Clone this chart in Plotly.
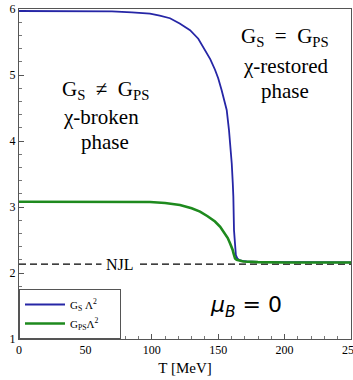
import plotly.graph_objects as go

# Data
T_s = [0, 40, 70, 85, 98.6, 106, 113.7, 121, 128.8, 135, 140, 144, 147.6, 150, 152.6,
       154.5, 156.4, 158.1, 159.2, 160.2, 161.0, 161.4, 161.9, 162.3, 162.7, 163.3,
       164.4, 166, 168, 171.5, 180, 200, 250]
G_s = [5.97, 5.97, 5.965, 5.95, 5.93, 5.90, 5.86, 5.78, 5.68, 5.55, 5.38, 5.24, 5.08,
       4.95, 4.77, 4.63, 4.47, 4.17, 3.93, 3.66, 3.35, 3.16, 2.65, 2.47, 2.35, 2.27,
       2.22, 2.195, 2.185, 2.175, 2.168, 2.163, 2.16]

T_ps = [0, 60, 90, 98.6, 110, 121.2, 130, 136.3, 142, 147.6, 151.5, 155.1, 157.2,
        158.9, 160.0, 160.9, 161.5, 161.9, 162.7, 163.9, 166, 168.9, 180, 200, 250]
G_ps = [3.08, 3.08, 3.08, 3.075, 3.06, 3.03, 2.98, 2.93, 2.86, 2.78, 2.70, 2.60, 2.53,
        2.45, 2.40, 2.35, 2.30, 2.25, 2.22, 2.20, 2.185, 2.175, 2.165, 2.16, 2.16]

njl_value = 2.135
x_range = [0, 250]
y_range = [1, 6]

serif = "Liberation Serif"
pad = "\u00a0" * 6

fig = go.Figure()
fig.add_trace(go.Scatter(x=x_range, y=[njl_value, njl_value], mode="lines",
                         line=dict(color="black", width=1.3, dash="7px,4px"),
                         showlegend=False, hoverinfo="skip"))
fig.add_trace(go.Scatter(x=T_s, y=G_s, mode="lines",
                         name="G<sub>S</sub> Λ<sup>2</sup>" + pad,
                         line=dict(color="#2626a6", width=1.8)))
fig.add_trace(go.Scatter(x=T_ps, y=G_ps, mode="lines",
                         name="G<sub>PS</sub>Λ<sup>2</sup>" + pad,
                         line=dict(color="#1e8a1e", width=2.6)))

tickfont = dict(family=serif, size=12, color="black")
fig.update_xaxes(range=x_range, dtick=50, tick0=0, showgrid=False, zeroline=False,
                 showline=True, linecolor="#555", linewidth=1, mirror=True,
                 ticks="inside", ticklen=5, tickcolor="#555", tickfont=tickfont,
                 ticklabeloverflow="allow",
                 minor=dict(ticks="inside", dtick=10, ticklen=3, tickcolor="#777"),
                 title=dict(text="T [MeV]", font=dict(family=serif, size=15, color="black"),
                            standoff=6),
                 automargin=False)
fig.update_yaxes(range=y_range, dtick=1, tick0=0, showgrid=False, zeroline=False,
                 showline=True, linecolor="#555", linewidth=1, mirror=True,
                 ticks="inside", ticklen=5, tickcolor="#555", tickfont=tickfont,
                 ticklabeloverflow="allow",
                 minor=dict(ticks="inside", dtick=0.2, ticklen=3, tickcolor="#777"),
                 automargin=False)

# mirrored tick marks on top and right
fig.update_layout(
    xaxis2=dict(overlaying="x", side="top", range=x_range, dtick=50, tick0=0,
                showgrid=False, zeroline=False, showticklabels=False,
                ticks="inside", ticklen=5, tickcolor="#555",
                minor=dict(ticks="inside", dtick=10, ticklen=3, tickcolor="#777")),
    yaxis2=dict(overlaying="y", side="right", range=y_range, dtick=1, tick0=0,
                showgrid=False, zeroline=False, showticklabels=False,
                ticks="inside", ticklen=5, tickcolor="#555",
                minor=dict(ticks="inside", dtick=0.2, ticklen=3, tickcolor="#777")),
)

ann_font = dict(family=serif, size=21, color="black")


def pix_y(py):
    return 1 + (339 - py) / 66.0


def pix_x(px):
    return (px - 19) / 1.328


annots = [
    (105, 90, "G<sub>S</sub>  ≠  G<sub>PS</sub>"),
    (101, 117, "χ-broken"),
    (105, 142, "phase"),
    (285, 37, "G<sub>S</sub>  =  G<sub>PS</sub>"),
    (285, 66, "χ-restored"),
    (285, 91, "phase"),
]
for px, py, txt in annots:
    fig.add_annotation(x=pix_x(px), y=pix_y(py), text=txt, showarrow=False,
                       font=ann_font, xanchor="center", yanchor="middle")

fig.add_annotation(x=pix_x(246), y=pix_y(306),
                   text="<i>μ</i><sub><i>B</i></sub> = 0", showarrow=False,
                   font=dict(family="DejaVu Sans", size=22, color="black"))
fig.add_annotation(x=pix_x(120), y=njl_value, text="NJL", showarrow=False,
                   font=dict(family=serif, size=16, color="black"),
                   bgcolor="white", borderpad=4)

fig.update_layout(
    width=353, height=380,
    margin=dict(l=19, r=2, t=9, b=41),
    paper_bgcolor="white", plot_bgcolor="white",
    legend=dict(x=0, y=0, xanchor="left", yanchor="bottom",
                bgcolor="white", bordercolor="#555", borderwidth=1,
                font=dict(family=serif, size=11, color="black"),
                itemwidth=40, tracegroupgap=0),
)

fig.write_html("out.html")
